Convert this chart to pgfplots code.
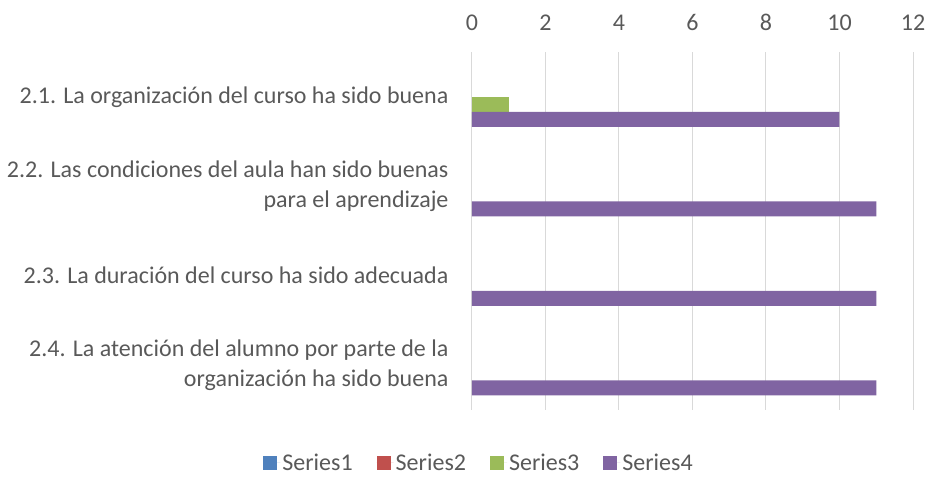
\documentclass[border=0pt]{standalone}
\usepackage{pgfplots}
\pgfplotsset{compat=1.18}
\usepackage{fontspec}
\setmainfont{Carlito}
\definecolor{txt}{RGB}{89,89,89}
\definecolor{grid}{RGB}{217,217,217}
\definecolor{s1}{RGB}{79,129,189}
\definecolor{s2}{RGB}{192,80,77}
\definecolor{s3}{RGB}{155,187,89}
\definecolor{s4}{RGB}{128,100,162}
\begin{document}
\begin{tikzpicture}
\useasboundingbox (0,0) rectangle (930pt,496pt);
\begin{axis}[
  at={(472pt,86pt)}, anchor=south west,
  scale only axis, width=441pt, height=358pt,
  xmin=0, xmax=12, xtick={0,2,...,12},
  ymin=0.5, ymax=4.5, y dir=reverse,
  ytick={1,2,3,4},
  yticklabels={{2.1. La organización del curso ha sido buena},
    {2.2. Las condiciones del aula han sido buenas\\para el aprendizaje},
    {2.3. La duración del curso ha sido adecuada},
    {2.4. La atención del alumno por parte de la\\organización ha sido buena}},
  xticklabel pos=upper,
  axis line style={draw=none},
  major tick length=0pt, tick style={draw=none},
  xmajorgrids, ymajorgrids=false,
  x grid style={grid, line width=1pt},
  /pgf/number format/assume math mode=true,
  tick label style={font=\fontsize{24}{30}\selectfont, text=txt},
  yticklabel style={align=right, xshift=-20pt},
  xticklabel style={yshift=18pt},
  xbar, bar width=15pt,
  legend style={at={(0.016,-0.148)}, anchor=center, draw=none,
    legend columns=4, font=\fontsize{24}{28}\selectfont, text=txt,
    /tikz/every even column/.append style={column sep=22pt}},
  legend image code/.code={\fill[#1] (0pt,-7pt) rectangle (14pt,7pt); \path (0pt,0pt) -- (17pt,0pt);},
]
\addlegendimage{fill=s1, draw=none}
\addlegendentry{Series1}
\addlegendimage{fill=s2, draw=none}
\addlegendentry{Series2}
\addplot[fill=s3, draw=none, bar shift=-7.5pt] coordinates {(1,1)};
\addlegendentry{Series3}
\addplot[fill=s4, draw=none, bar shift=-22.5pt] coordinates {(10,1) (11,2) (11,3) (11,4)};
\addlegendentry{Series4}
\end{axis}
\end{tikzpicture}
\end{document}
